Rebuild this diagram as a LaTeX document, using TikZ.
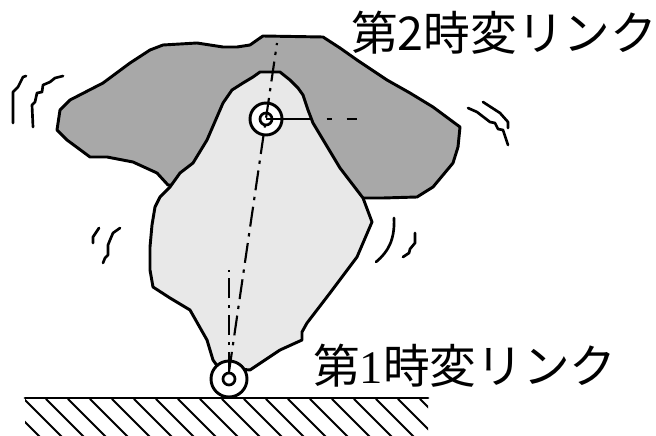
\documentclass[tikz,border=0pt]{standalone}
\usepackage{fontspec}
\newfontfamily\jpfont{Noto Sans CJK JP}
\newfontfamily\numfont{Liberation Serif}
\definecolor{darkGrey}{gray}{0.66}
\definecolor{lightGrey}{gray}{0.91}

\begin{document}
\begin{tikzpicture}[
        x=0.75pt, y=-0.75pt,
        line join=round, line cap=round,
        outline/.style={draw, line width=2.2pt},
        darkBody/.style={outline, fill=darkGrey},
        lightBody/.style={outline, fill=lightGrey},
        pivotNode/.style={circle, draw, line width=2.2pt, fill=white, minimum size=24pt, inner sep=0pt},
        wheelNode/.style={pivotNode, minimum size=27pt},
        hubNode/.style={circle, draw, line width=2pt, fill=white, minimum size=9pt, inner sep=0pt},
        centreLine/.style={line width=1.6pt, line cap=butt, dash pattern=on 15pt off 5pt on 2.5pt off 5pt},
        shakeMark/.style={line width=2pt},
        linkLabel/.style={font=\jpfont\fontsize{35}{35}\selectfont, inner sep=0pt}
    ]
        \useasboundingbox (0,0) rectangle (656,435);

        % Upper body (second link)
        \draw[darkBody] (263,36) -- (323,37) -- (340,48) -- (357,60) -- (387,80) -- (410,93)
            -- (433,107) -- (460,127) -- (458,147) -- (453,163) -- (433,187) -- (417,197)
            -- (383,198) -- (363,198) -- (300,190) -- (168,185) -- (157,173) -- (133,162)
            -- (107,157) -- (90,157) -- (67,140) -- (57,130) -- (60,110) -- (70,100)
            -- (103,83) -- (130,63) -- (150,50) -- (163,45) -- (197,43) -- (223,47)
            -- (237,47) -- (250,45) -- (260,38) -- cycle;

        % Lower body (first link)
        \draw[lightBody] (260,72) -- (280,72) -- (290,80) -- (298,88) -- (303,95) -- (308,110)
            -- (313,123) -- (340,168) -- (363,198) -- (372,222) -- (357,257) -- (330,293)
            -- (307,323) -- (302,332) -- (302,340) -- (280,350) -- (250,370) -- (218,367)
            -- (213,360) -- (207,340) -- (190,310) -- (170,298) -- (153,287) -- (150,270)
            -- (150,247) -- (152,225) -- (155,207) -- (160,197) -- (170,187) -- (180,173)
            -- (193,163) -- (207,140) -- (223,103) -- (232,90) -- (243,83) -- (253,77) -- cycle;

        % Ground
        \begin{scope}
            \clip (25,399) rectangle (428,435);
            \foreach \gx in {-20,2,...,430}
                \draw[line width=1.4pt] (\gx,399) -- ++(40,40);
        \end{scope}
        \coordinate (groundL) at (25,398);
        \coordinate (groundR) at (428,398);
        \draw[line width=2.2pt] (groundL) -- (groundR);

        % Joints
        \node[pivotNode] (pivot) at (266,119) {};
        \node[hubNode] (pivotHub) at (266,119) {};
        \node[wheelNode] (wheel) at (229,379) {};
        \node[hubNode] (wheelHub) at (229,379) {};

        % Link axes
        \coordinate (linkTop) at (277,43);
        \coordinate (plumbTop) at (229,270);
        \coordinate (armEnd) at (357,119);
        \draw[centreLine] (wheelHub.north) -- (linkTop);
        \draw[centreLine] (wheelHub.north) -- (plumbTop);
        \draw[line width=1.6pt, line cap=butt, dash pattern=on 34.5pt off 11pt on 4pt off 11pt on 8pt]
            (pivotHub.center) -- (armEnd);

        % Shaking marks
        \draw[shakeMark] (13,123) -- (13,92) -- (18,87) -- (23,77) -- (26,76);
        \draw[shakeMark] (33,127) -- (32,105) -- (35,102) -- (37,93) -- (42,92) -- (43,85)
            -- (50,82) -- (55,78) -- (63,76);
        \draw[shakeMark] (468,108) -- (477,112) -- (490,122) -- (495,123) -- (498,129)
            -- (503,130) -- (508,145);
        \draw[shakeMark] (483,102) -- (500,113) -- (508,122) -- (508,128);
        \draw[shakeMark] (99,228) -- (93,237) -- (93,243);
        \draw[shakeMark] (120,228) -- (113,233) -- (110,240) -- (108,245) -- (108,255)
            -- (105,258) -- (103,263);
        \draw[shakeMark] (394,218) .. controls (395,240) and (388,252) .. (376,262);
        \draw[shakeMark] (415,233) -- (415,243) -- (410,249) -- (409,253) -- (403,257);

        % Labels
        \node[linkLabel, anchor=west] (label2) at (351,33) {第2時変リンク};
        \node[linkLabel, anchor=west] (label1) at (313,366) {第{\numfont 1}時変リンク};
    \end{tikzpicture}
\end{document}
